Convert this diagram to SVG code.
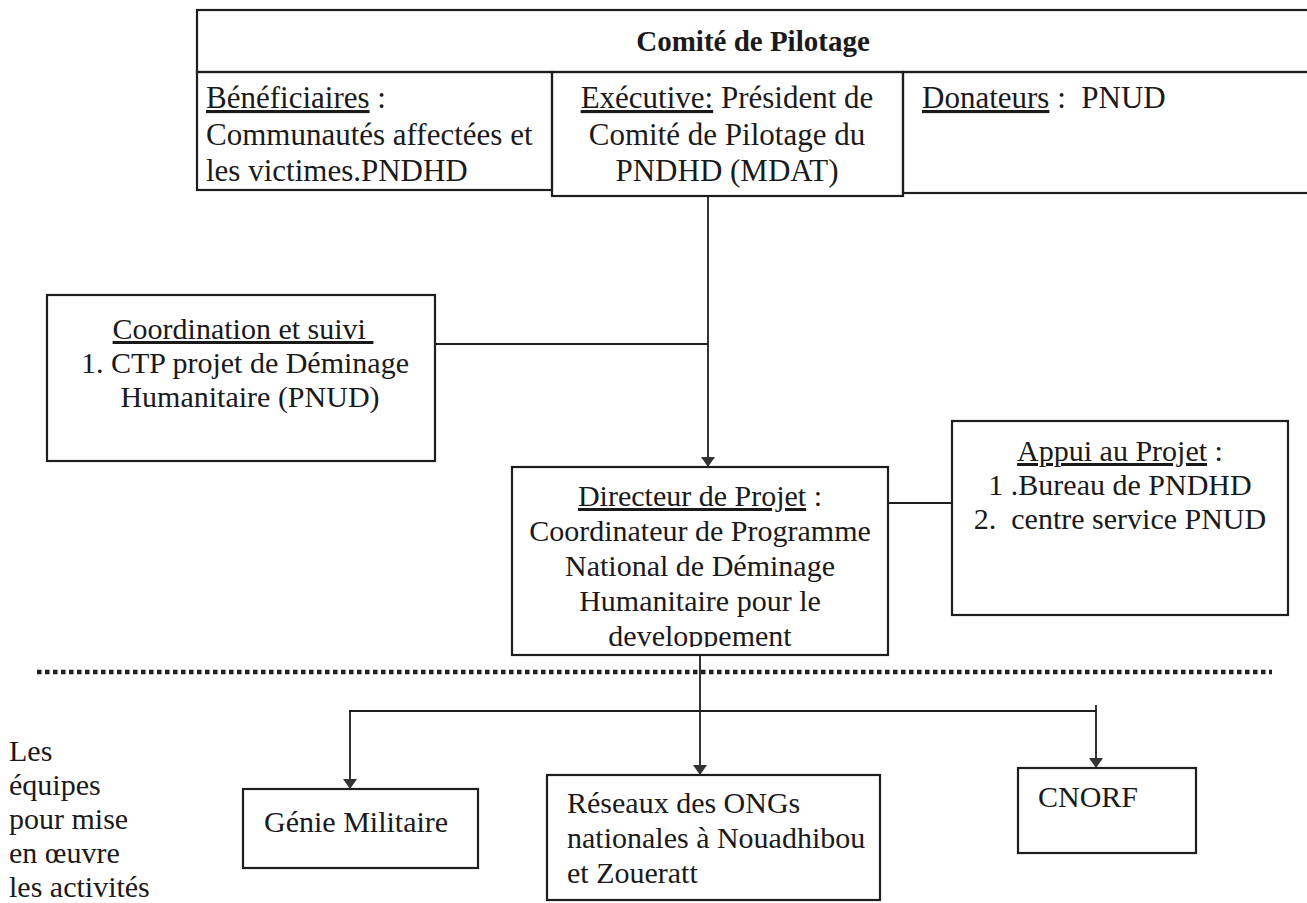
<svg xmlns="http://www.w3.org/2000/svg" width="1307" height="903" viewBox="0 0 1307 903">
<style>
.box{fill:none;stroke:#1e1e1e;stroke-width:2.2}
.ln{fill:none;stroke:#1e1e1e;stroke-width:1.8}
.t{font-family:"Liberation Serif","Times New Roman",serif;font-size:30px;fill:#1a1a1a}
.r2{font-size:31px}
.b{font-weight:bold;font-size:29px}
.m{text-anchor:middle}
.u{text-decoration:underline}
</style>
<defs>
<marker id="ah" viewBox="0 0 10 14" refX="10" refY="7" markerWidth="10" markerHeight="14" markerUnits="userSpaceOnUse" orient="auto">
<path d="M0,0 L10,7 L0,14 Z" fill="#333"/>
</marker>
<clipPath id="dirclip"><rect x="512" y="467" width="376" height="180"/></clipPath>
</defs>
<rect width="1307" height="903" fill="#fff"/>

<g id="comite">
<rect class="box" x="197" y="10" width="1125" height="62"/>
<text class="t b m" x="753" y="51">Comité de Pilotage</text>
</g>

<g id="beneficiaires">
<rect class="box" x="197" y="72" width="355" height="118"/>
<text class="t r2" x="206" y="108"><tspan class="u">Bénéficiaires</tspan> :</text>
<text class="t r2" x="206" y="145">Communautés affectées et</text>
<text class="t r2" x="206" y="181">les victimes.PNDHD</text>
</g>

<g id="executive">
<rect class="box" x="552" y="72" width="351" height="124"/>
<text class="t r2 m" x="727" y="108"><tspan class="u">Exécutive:</tspan> Président de</text>
<text class="t r2 m" x="727" y="145">Comité de Pilotage du</text>
<text class="t r2 m" x="727" y="181">PNDHD (MDAT)</text>
</g>

<g id="donateurs">
<rect class="box" x="903" y="72" width="420" height="121"/>
<text class="t r2" x="922" y="108" xml:space="preserve"><tspan class="u">Donateurs</tspan> :  PNUD</text>
</g>

<g id="coordination">
<rect class="box" x="47" y="295" width="388" height="166"/>
<text class="t m" x="243" y="339" xml:space="preserve"><tspan class="u">Coordination et suivi </tspan></text>
<text class="t m" x="245" y="373">1. CTP projet de Déminage</text>
<text class="t m" x="250" y="407">Humanitaire (PNUD)</text>
</g>

<g id="directeur">
<rect class="box" x="512" y="467" width="376" height="188"/>
<g clip-path="url(#dirclip)">
<text class="t m" x="700" y="506"><tspan class="u">Directeur de Projet</tspan> :</text>
<text class="t m" x="700" y="541">Coordinateur de Programme</text>
<text class="t m" x="700" y="576">National de Déminage</text>
<text class="t m" x="700" y="611">Humanitaire pour le</text>
<text class="t m" x="700" y="646">developpement</text>
</g>
</g>

<g id="appui">
<rect class="box" x="952" y="421" width="336" height="194"/>
<text class="t m" x="1120" y="461"><tspan class="u">Appui au Projet</tspan> :</text>
<text class="t m" x="1120" y="495">1 .Bureau de PNDHD</text>
<text class="t m" x="1120" y="529" xml:space="preserve">2.  centre service PNUD</text>
</g>

<g id="genie">
<rect class="box" x="243" y="789" width="235" height="79"/>
<text class="t" x="264" y="832">Génie Militaire</text>
</g>

<g id="reseaux">
<rect class="box" x="547" y="775" width="333" height="125"/>
<text class="t" x="567" y="813">Réseaux des ONGs</text>
<text class="t" x="567" y="848">nationales à Nouadhibou</text>
<text class="t" x="567" y="883">et Zoueratt</text>
</g>

<g id="cnorf">
<rect class="box" x="1018" y="768" width="178" height="85"/>
<text class="t" x="1038" y="807">CNORF</text>
</g>

<g id="equipes">
<text class="t" x="9" y="761">Les</text>
<text class="t" x="9" y="795">équipes</text>
<text class="t" x="9" y="829">pour mise</text>
<text class="t" x="9" y="863">en œuvre</text>
<text class="t" x="9" y="897">les activités</text>
</g>

<g id="separator">
<line x1="37" y1="672" x2="1272" y2="672" stroke="#1e1e1e" stroke-width="4.5" stroke-dasharray="4.5 3.5"/>
</g>

<g id="connectors">
<line class="ln" x1="708" y1="196" x2="708" y2="467" marker-end="url(#ah)"/>
<line class="ln" x1="435" y1="344" x2="708" y2="344"/>
<line class="ln" x1="888" y1="503" x2="952" y2="503"/>
<line class="ln" x1="700" y1="655" x2="700" y2="775" marker-end="url(#ah)"/>
<line class="ln" x1="349" y1="711" x2="1096" y2="711"/>
<line class="ln" x1="350" y1="711" x2="350" y2="789" marker-end="url(#ah)"/>
<line class="ln" x1="1096" y1="705" x2="1096" y2="768" marker-end="url(#ah)"/>
</g>
</svg>
